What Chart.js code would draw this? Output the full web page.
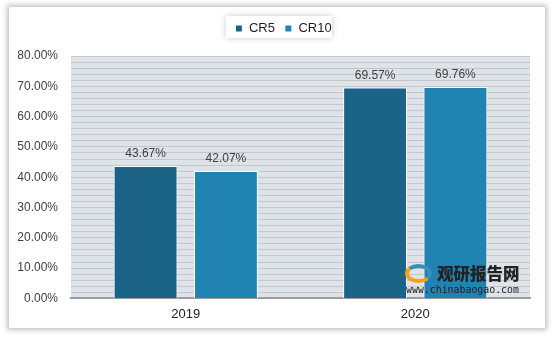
<!DOCTYPE html>
<html><head><meta charset="utf-8">
<script src="https://cdn.jsdelivr.net/npm/chart.js@4"></script>
<style>
html,body{margin:0;padding:0;background:#fff;}
#wrap{position:relative;width:554px;height:340px;overflow:hidden;background:#fff;}
#frame{position:absolute;left:9px;top:7px;width:536px;height:321px;background:#fff;box-shadow:0 0 5px 2px rgba(0,0,0,0.25);}
canvas{position:absolute;left:0;top:0;}
.wm{position:absolute;color:#222;white-space:nowrap;}
#wmcn{left:437px;top:261px;font-family:"Noto Sans CJK SC",sans-serif;font-size:16.5px;font-weight:900;line-height:24px;}
#wmurl{left:406px;top:284px;font-family:"DejaVu Sans Mono",monospace;font-size:9.9px;line-height:12px;}
#wmlogo{left:405px;top:264px;width:27px;height:19px;border-radius:50%;border:4px solid #f4a11a;border-top-color:#3a8fb5;border-right-color:#3a8fb5;box-sizing:border-box;}
</style></head>
<body>
<div id="wrap">
<div id="frame"></div>
<canvas id="c" width="554" height="340"></canvas>
<div class="wm" id="wmlogo"></div>
<div class="wm" id="wmcn">观研报告网</div>
<div class="wm" id="wmurl">www.chinabaogao.com</div>
</div>
<script>
const categories = ["2019", "2020"];
const seriesNames = ["CR5", "CR10"];
const cr5Values = [43.67, 69.57];
const cr10Values = [42.07, 69.76];
const yTickLabels = ["0.00%","10.00%","20.00%","30.00%","40.00%","50.00%","60.00%","70.00%","80.00%"];

const FONT = '"Liberation Sans", Arial, sans-serif';

const plotBg = {
  id: 'plotBg',
  beforeDraw(chart) {
    const {ctx, chartArea:a} = chart;
    ctx.save();
    ctx.fillStyle = '#dee3e8';
    ctx.fillRect(a.left, a.top, a.right - a.left, a.bottom - a.top);
    ctx.restore();
  }
};
const legendShift = {
  id: 'legendShift',
  afterLayout(chart) {
    const l = chart.legend;
    if (!l) return;
    const dx = 10, dy = -11;
    l.left += dx; l.right += dx; l.top += dy; l.bottom += dy;
    if (l.legendHitBoxes) l.legendHitBoxes.forEach(h => { h.left += dx; h.top += dy; });
  },
  beforeDraw(chart) {
    const ctx = chart.ctx;
    ctx.save();
    ctx.shadowColor = 'rgba(0,0,0,0.22)';
    ctx.shadowBlur = 6;
    ctx.fillStyle = '#fff';
    ctx.fillRect(226, 16, 106, 22);
    ctx.restore();
  }
};
const valLabels = {
  id: 'valLabels',
  afterDatasetsDraw(chart) {
    const ctx = chart.ctx;
    ctx.save();
    ctx.font = '12px ' + FONT;
    ctx.fillStyle = '#404040';
    ctx.textAlign = 'center';
    ctx.textBaseline = 'alphabetic';
    chart.data.datasets.forEach((ds, i) => {
      chart.getDatasetMeta(i).data.forEach((bar, j) => {
        ctx.fillText(ds.data[j].toFixed(2) + '%', bar.x, bar.y - 9);
      });
    });
    ctx.restore();
  }
};

new Chart(document.getElementById('c'), {
  type: 'bar',
  data: {
    labels: categories,
    datasets: [
      {label: seriesNames[0], data: cr5Values, backgroundColor: '#1b6487', borderColor: '#ffffff', borderWidth: 1},
      {label: seriesNames[1], data: cr10Values, backgroundColor: '#2083b1', borderColor: '#ffffff', borderWidth: 1}
    ]
  },
  options: {
    responsive: false,
    animation: false,
    devicePixelRatio: 1,
    layout: {padding: {top: 23, left: 17, right: 24, bottom: 10}},
    datasets: {bar: {categoryPercentage: 0.70, barPercentage: 0.795}},
    plugins: {
      legend: {
        display: true,
        position: 'top',
        align: 'center',
        labels: {
          boxWidth: 7, boxHeight: 7, padding: 10,
          color: '#222',
          font: {size: 13, family: FONT}
        }
      },
      tooltip: {enabled: false}
    },
    scales: {
      x: {
        grid: {display: false, drawTicks: false},
        border: {display: true, color: '#9a9ea2', width: 2},
        ticks: {color: '#222', padding: 8, font: {size: 13, family: FONT}}
      },
      y: {
        min: 0, max: 80,
        afterFit(scale) { scale.width = 54; },
        grid: {color: '#c3c7cb', lineWidth: 1, drawTicks: false},
        border: {display: false},
        ticks: {
          stepSize: 2, autoSkip: false, padding: 13, color: '#404040',
          font: {size: 12, family: FONT},
          callback: v => (Math.round(v) % 10 === 0 ? yTickLabels[Math.round(v) / 10] : '')
        }
      }
    }
  },
  plugins: [plotBg, legendShift, valLabels]
});
</script>
</body></html>
